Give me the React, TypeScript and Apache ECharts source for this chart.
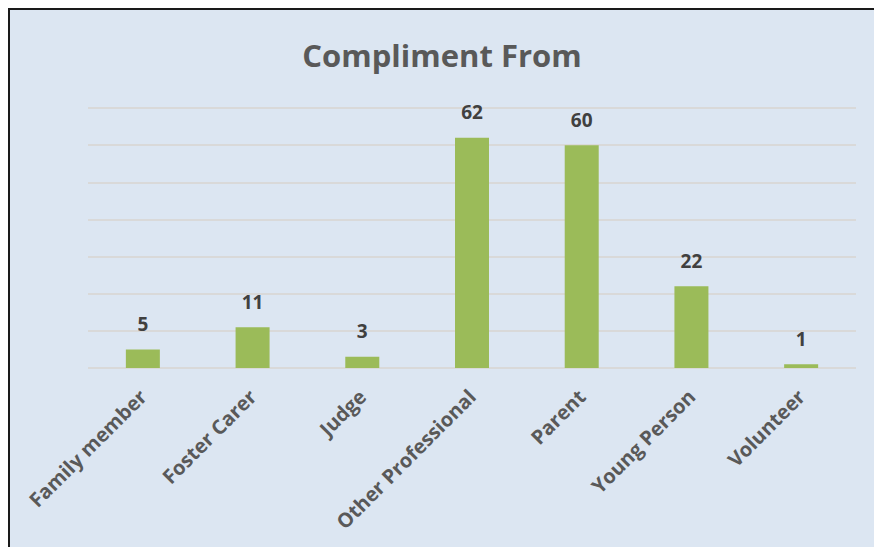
import React, { useEffect, useRef } from "react";
import * as echarts from "echarts";

const categories = ["Family member", "Foster Carer", "Judge", "Other Professional", "Parent", "Young Person", "Volunteer"];
const values = [5, 11, 3, 62, 60, 22, 1];
const titleText = "Compliment From";

export default function App() {
  const ref = useRef<HTMLDivElement>(null);
  useEffect(() => {
    document.documentElement.style.overflow = "hidden";
    document.body.style.overflow = "hidden";
    const chart = echarts.init(ref.current!, undefined, { renderer: "svg" });
    chart.setOption({
      animation: false,
      title: {
        text: titleText,
        left: "center",
        top: 24,
        textStyle: { fontFamily: "Open Sans", fontWeight: "bold", fontSize: 31, color: "#595959" },
      },
      grid: { left: 78, width: 768, top: 98, height: 260, containLabel: false },
      xAxis: {
        type: "category",
        data: categories,
        axisLine: { show: false },
        axisTick: { show: false },
        axisLabel: {
          rotate: 45,
          interval: 0,
          margin: 25,
          fontFamily: "Open Sans",
          fontWeight: "bold",
          fontSize: 20,
          color: "#595959",
        },
      },
      yAxis: {
        type: "value",
        min: 0,
        max: 70,
        interval: 10,
        axisLabel: { show: false },
        axisLine: { show: false },
        axisTick: { show: false },
        splitLine: { lineStyle: { color: "#d9d9d9", width: 2 } },
      },
      series: [
        {
          type: "bar",
          data: values,
          barWidth: 34,
          itemStyle: { color: "#9bbb59" },
          label: {
            show: true,
            position: "top",
            distance: 16,
            fontFamily: "Open Sans",
            fontWeight: "bold",
            fontSize: 19,
            color: "#404040",
          },
        },
      ],
    });
    return () => chart.dispose();
  }, []);
  return (
    <div
      style={{
        position: "fixed",
        left: 8,
        top: 8,
        width: 920,
        height: 600,
        background: "#dce6f2",
        borderTop: "2px solid #1a1a1a",
        borderLeft: "2px solid #1a1a1a",
        boxSizing: "border-box",
      }}
    >
      <div ref={ref} style={{ width: 864, height: 537 }} />
    </div>
  );
}
